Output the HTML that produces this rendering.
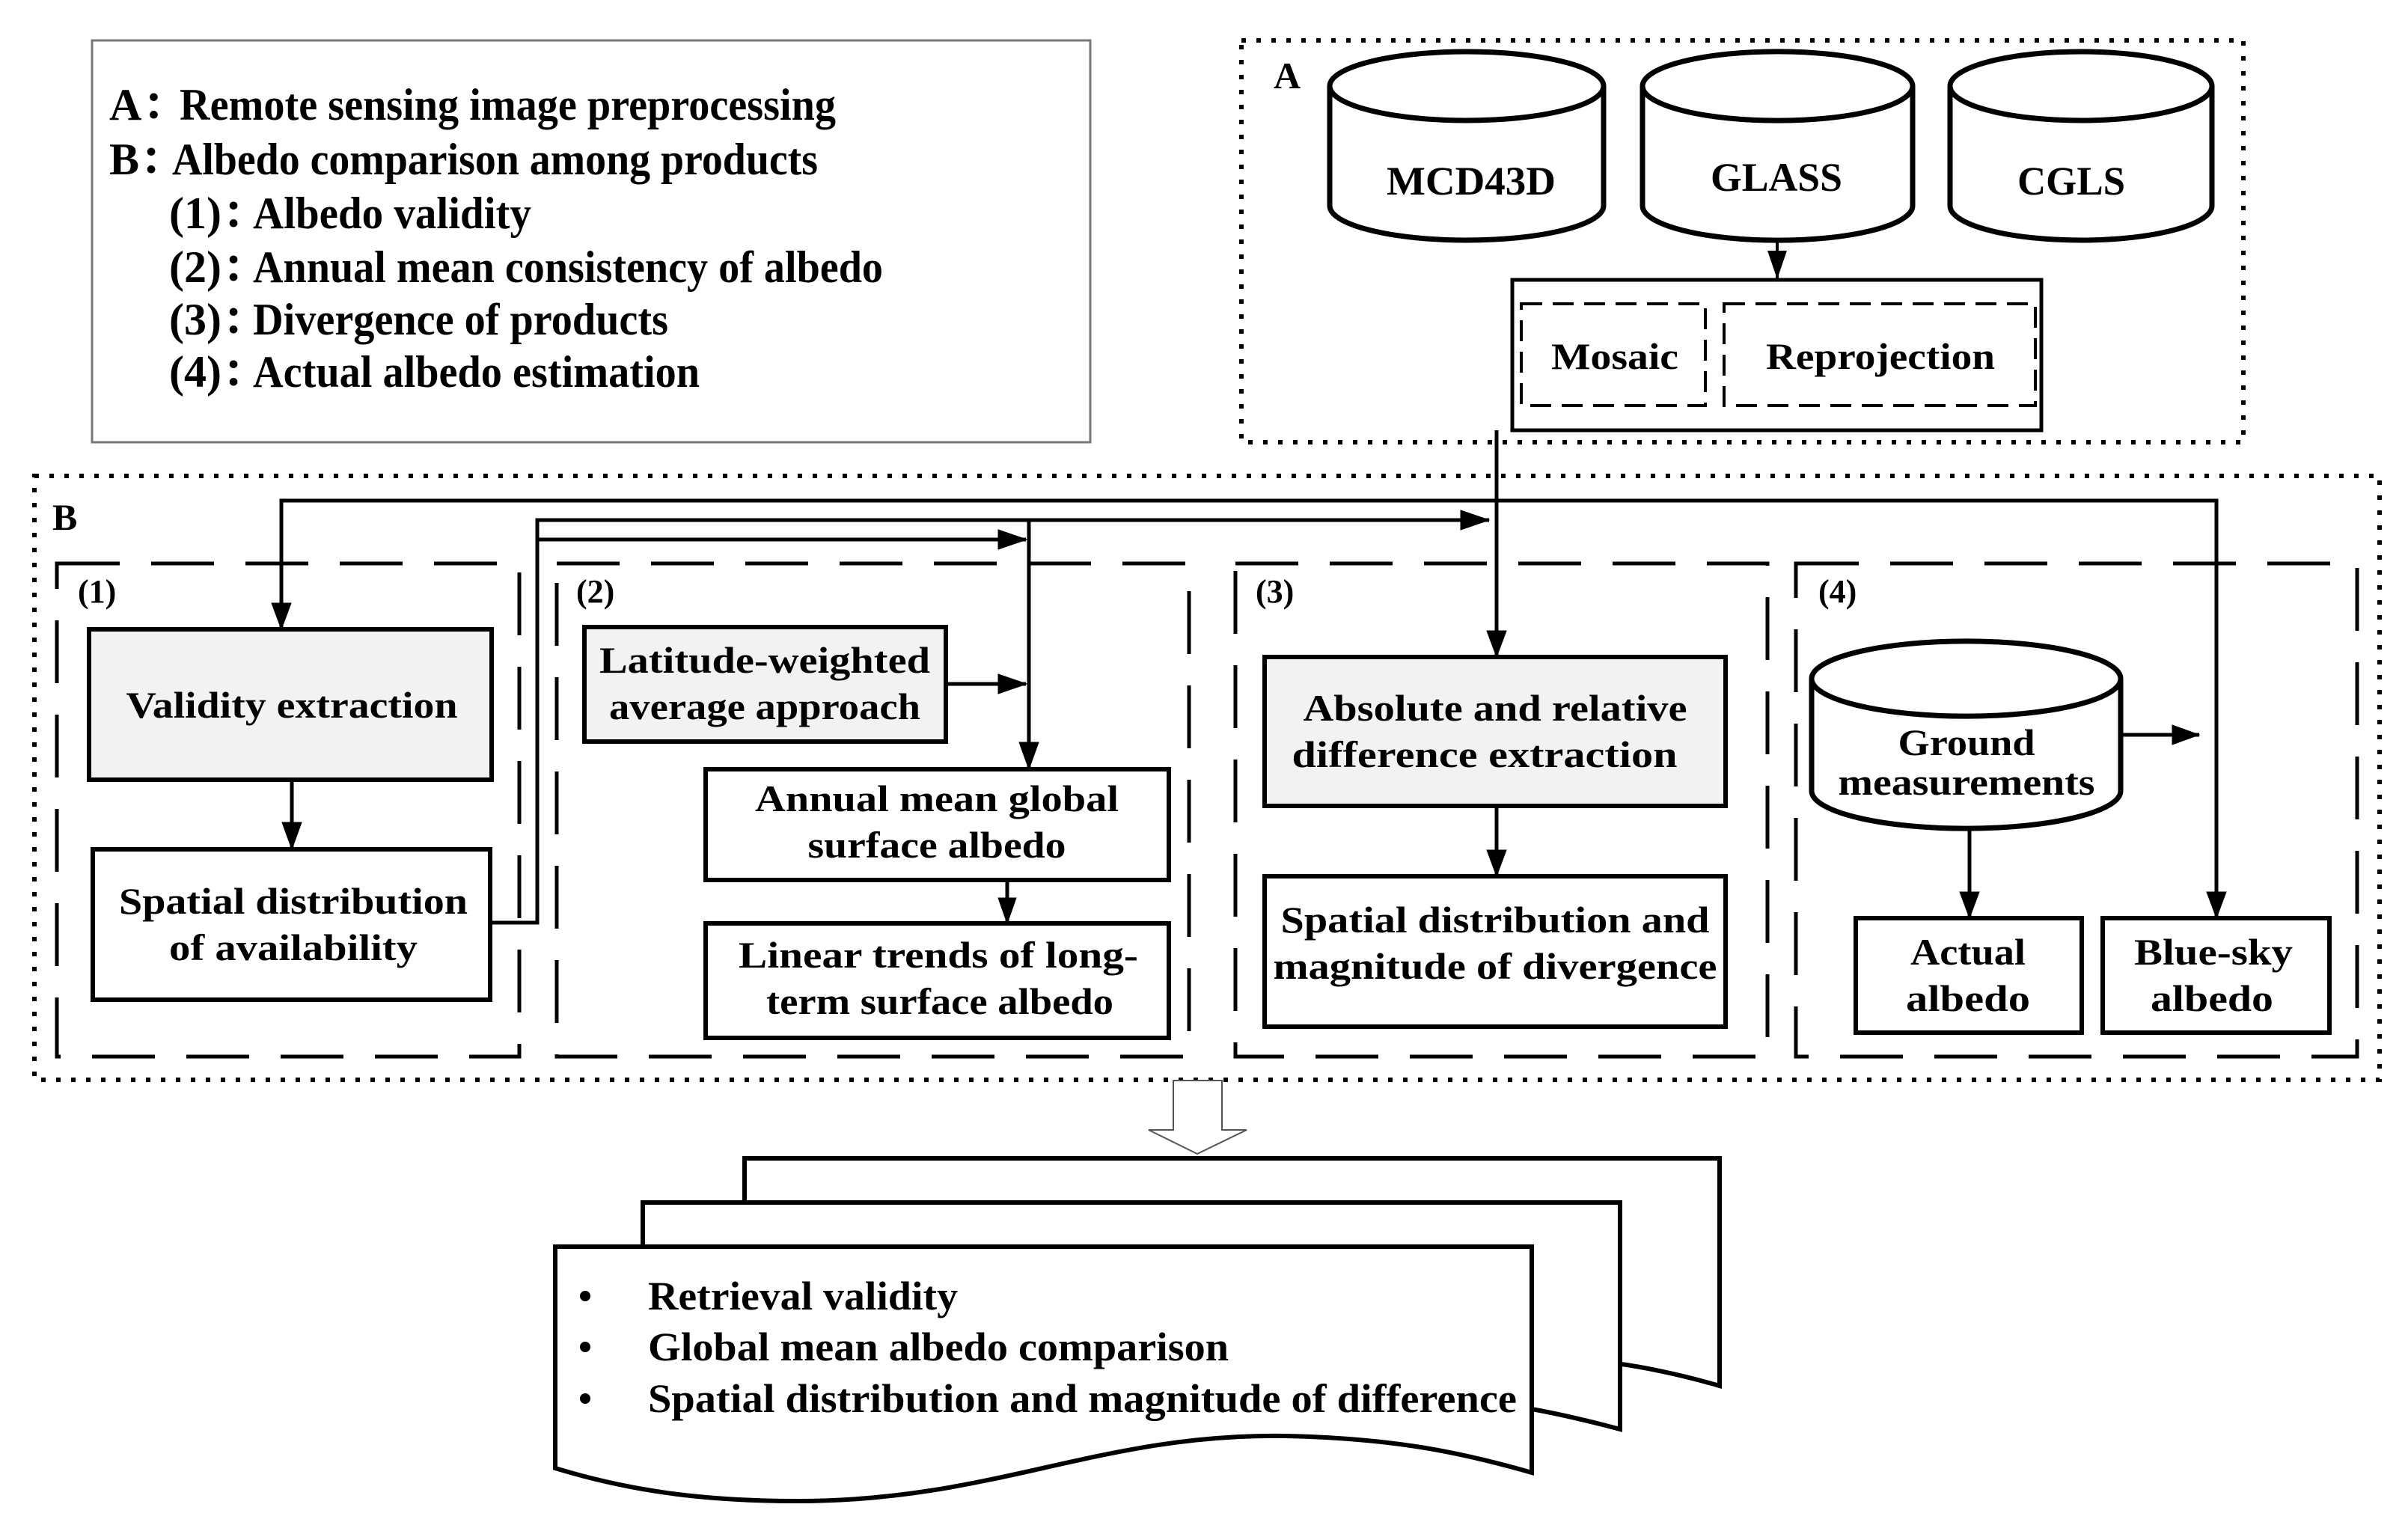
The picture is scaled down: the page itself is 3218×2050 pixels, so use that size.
<!DOCTYPE html>
<html><head><meta charset="utf-8"><style>
html,body{margin:0;padding:0;background:#fff;}
svg{display:block;}
text{font-family:"Liberation Serif","Noto Serif CJK SC",serif;font-weight:bold;fill:#000;}
</style></head><body>
<svg width="3218" height="2050" viewBox="0 0 3218 2050" xmlns="http://www.w3.org/2000/svg">
<defs>
<marker id="ah" markerUnits="userSpaceOnUse" markerWidth="40" markerHeight="26" refX="38" refY="13" orient="auto">
<path d="M0,0 L38,13 L0,26 z" fill="#000"/>
</marker>
</defs>
<rect width="3218" height="2050" fill="#fff"/>

<!-- Legend -->
<rect x="123" y="54" width="1334" height="537" fill="none" stroke="#777" stroke-width="3"/>
<g font-size="60">
<text x="146" y="160">A：</text><text x="240" y="160" textLength="877" lengthAdjust="spacingAndGlyphs">Remote sensing image preprocessing</text>
<text x="146" y="233">B：</text><text x="230" y="233" textLength="863" lengthAdjust="spacingAndGlyphs">Albedo comparison among products</text>
<text x="226" y="305">(1)：</text><text x="338" y="305" textLength="372" lengthAdjust="spacingAndGlyphs">Albedo validity</text>
<text x="226" y="377">(2)：</text><text x="338" y="377" textLength="842" lengthAdjust="spacingAndGlyphs">Annual mean consistency of albedo</text>
<text x="226" y="447">(3)：</text><text x="338" y="447" textLength="555" lengthAdjust="spacingAndGlyphs">Divergence of products</text>
<text x="226" y="517">(4)：</text><text x="338" y="517" textLength="597" lengthAdjust="spacingAndGlyphs">Actual albedo estimation</text>
</g>

<!-- Box A -->
<rect x="1659" y="54" width="1339" height="537" fill="none" stroke="#000" stroke-width="6" stroke-dasharray="6 14"/>
<text x="1702" y="118" font-size="50">A</text>
<g fill="#fff" stroke="#000" stroke-width="7">
<path d="M1777,115 A183,46 0 0 1 2143,115 L2143,275 A183,46 0 0 1 1777,275 Z"/>
<path d="M1777,115 A183,46 0 0 0 2143,115" fill="none"/>
<path d="M2195,115 A180,46 0 0 1 2556,115 L2556,275 A180,46 0 0 1 2195,275 Z"/>
<path d="M2195,115 A180,46 0 0 0 2556,115" fill="none"/>
<path d="M2606,115 A175,46 0 0 1 2956,115 L2956,275 A175,46 0 0 1 2606,275 Z"/>
<path d="M2606,115 A175,46 0 0 0 2956,115" fill="none"/>
</g>
<g font-size="54" text-anchor="middle">
<text x="1966" y="260" textLength="226" lengthAdjust="spacingAndGlyphs">MCD43D</text>
<text x="2374" y="255" textLength="176" lengthAdjust="spacingAndGlyphs">GLASS</text>
<text x="2768" y="260" textLength="144" lengthAdjust="spacingAndGlyphs">CGLS</text>
</g>
<line x1="2375" y1="321" x2="2375" y2="373" stroke="#000" stroke-width="4" marker-end="url(#ah)"/>
<rect x="2021" y="374" width="707" height="201" fill="none" stroke="#000" stroke-width="5"/>
<rect x="2033" y="406" width="246" height="136" fill="none" stroke="#000" stroke-width="4" stroke-dasharray="28 14"/>
<rect x="2304" y="406" width="416" height="136" fill="none" stroke="#000" stroke-width="4" stroke-dasharray="28 14"/>
<g font-size="50" text-anchor="middle">
<text x="2158" y="493" textLength="170" lengthAdjust="spacingAndGlyphs">Mosaic</text>
<text x="2513" y="493" textLength="306" lengthAdjust="spacingAndGlyphs">Reprojection</text>
</g>

<!-- Box B -->
<rect x="46" y="636" width="3134" height="807" fill="none" stroke="#000" stroke-width="6" stroke-dasharray="6 14"/>
<text x="70" y="708" font-size="50">B</text>

<!-- sub dashed boxes -->
<g fill="none" stroke="#000" stroke-width="5" stroke-dasharray="84 42">
<rect x="76" y="753" width="618" height="659"/>
<rect x="744" y="753" width="845" height="659"/>
<rect x="1651" y="753" width="711" height="659"/>
<rect x="2400" y="753" width="750" height="659"/>
</g>
<g font-size="44">
<text x="104" y="805">(1)</text>
<text x="770" y="805">(2)</text>
<text x="1678" y="805">(3)</text>
<text x="2430" y="805">(4)</text>
</g>

<!-- connectors -->
<g fill="none" stroke="#000" stroke-width="5">
<polyline points="376,839 376,669 2962,669 2962,1225" />
<polyline points="2000,575 2000,876"/>
<polyline points="655,1233 718,1233 718,695 1990,695"/>
<polyline points="718,721 1371,721"/>
<polyline points="1375,695 1375,1026"/>
<line x1="1264" y1="914" x2="1371" y2="914"/>
<line x1="390" y1="1042" x2="390" y2="1133"/>
<line x1="1346" y1="1176" x2="1346" y2="1232"/>
<line x1="2000" y1="1077" x2="2000" y2="1169"/>
<line x1="2834" y1="982" x2="2939" y2="982"/>
<line x1="2632" y1="1107" x2="2632" y2="1225"/>
</g>
<g stroke="#000" stroke-width="1">
<path d="M376,841 L363,806 L389,806 z"/>
<path d="M1990,695 L1952,682 L1952,708 z"/>
<path d="M1372,721 L1334,708 L1334,734 z"/>
<path d="M1375,1028 L1362,992 L1388,992 z"/>
<path d="M1372,914 L1334,901 L1334,927 z"/>
<path d="M390,1135 L377,1099 L403,1099 z"/>
<path d="M1346,1234 L1334,1200 L1358,1200 z"/>
<path d="M2000,878 L1987,843 L2013,843 z"/>
<path d="M2000,1171 L1987,1136 L2013,1136 z"/>
<path d="M2939,982 L2903,969 L2903,995 z"/>
<path d="M2632,1227 L2619,1192 L2645,1192 z"/>
<path d="M2962,1227 L2949,1192 L2975,1192 z"/>
</g>

<!-- boxes -->
<g stroke="#000" stroke-width="6">
<rect x="119" y="841" width="538" height="201" fill="#f2f2f2"/>
<rect x="124" y="1135" width="531" height="201" fill="#fff"/>
<rect x="781" y="838" width="483" height="153" fill="#f2f2f2"/>
<rect x="943" y="1028" width="619" height="148" fill="#fff"/>
<rect x="943" y="1234" width="619" height="153" fill="#fff"/>
<rect x="1690" y="878" width="616" height="199" fill="#f2f2f2"/>
<rect x="1690" y="1171" width="616" height="201" fill="#fff"/>
<rect x="2480" y="1227" width="302" height="153" fill="#fff"/>
<rect x="2810" y="1227" width="303" height="153" fill="#fff"/>
</g>
<g fill="#fff" stroke="#000" stroke-width="7">
<path d="M2421,907 A206,50 0 0 1 2834,907 L2834,1057 A206,50 0 0 1 2421,1057 Z"/>
<path d="M2421,907 A206,50 0 0 0 2834,907" fill="none"/>
</g>

<g font-size="50" text-anchor="middle">
<text x="390" y="959" textLength="443" lengthAdjust="spacingAndGlyphs">Validity extraction</text>
<text x="392" y="1221" textLength="466" lengthAdjust="spacingAndGlyphs">Spatial distribution</text>
<text x="392" y="1283" textLength="332" lengthAdjust="spacingAndGlyphs">of availability</text>
<text x="1022" y="899" textLength="442" lengthAdjust="spacingAndGlyphs">Latitude-weighted</text>
<text x="1022" y="961" textLength="416" lengthAdjust="spacingAndGlyphs">average approach</text>
<text x="1252" y="1084" textLength="486" lengthAdjust="spacingAndGlyphs">Annual mean global</text>
<text x="1252" y="1146" textLength="345" lengthAdjust="spacingAndGlyphs">surface albedo</text>
<text x="1254" y="1293" textLength="534" lengthAdjust="spacingAndGlyphs">Linear trends of  long-</text>
<text x="1256" y="1355" textLength="464" lengthAdjust="spacingAndGlyphs">term surface albedo</text>
<text x="1998" y="963" textLength="513" lengthAdjust="spacingAndGlyphs">Absolute and relative</text>
<text x="1984" y="1025" textLength="515" lengthAdjust="spacingAndGlyphs">difference extraction</text>
<text x="1998" y="1246" textLength="573" lengthAdjust="spacingAndGlyphs">Spatial distribution and</text>
<text x="1998" y="1308" textLength="593" lengthAdjust="spacingAndGlyphs">magnitude of divergence</text>
<text x="2628" y="1009" textLength="183" lengthAdjust="spacingAndGlyphs">Ground</text>
<text x="2628" y="1062" textLength="343" lengthAdjust="spacingAndGlyphs">measurements</text>
<text x="2630" y="1289" textLength="154" lengthAdjust="spacingAndGlyphs">Actual</text>
<text x="2630" y="1351" textLength="166" lengthAdjust="spacingAndGlyphs">albedo</text>
<text x="2958" y="1289" textLength="212" lengthAdjust="spacingAndGlyphs">Blue-sky</text>
<text x="2956" y="1351" textLength="164" lengthAdjust="spacingAndGlyphs">albedo</text>
</g>

<!-- hollow arrow -->
<path d="M1568,1444 L1633,1444 L1633,1510 L1666,1510 L1600,1542 L1535,1510 L1568,1510 Z" fill="#fff" stroke="#555" stroke-width="2"/>

<!-- stacked documents -->
<g fill="#fff" stroke="#000" stroke-width="6">
<path d="M995,1548 L2298,1548 L2298,1852 C2240,1835 2190,1826 2160,1822 L995,1822 Z"/>
<path d="M859,1607 L2165,1607 L2165,1910 C2120,1898 2080,1889 2047,1883 L859,1883 Z"/>
<path d="M742,1666 L2047,1666 L2047,1968 C1950,1940 1860,1922 1718,1919 C1470,1915 1330,2006 1066,2006 C950,2006 850,1995 742,1962 Z"/>
</g>
<g font-size="54">
<circle cx="782" cy="1732" r="7"/>
<circle cx="782" cy="1800" r="7"/>
<circle cx="782" cy="1869" r="7"/>
<text x="866" y="1750" textLength="414" lengthAdjust="spacingAndGlyphs">Retrieval validity</text>
<text x="866" y="1818" textLength="776" lengthAdjust="spacingAndGlyphs">Global mean albedo comparison</text>
<text x="866" y="1887" textLength="1161" lengthAdjust="spacingAndGlyphs">Spatial distribution and magnitude of difference</text>
</g>
</svg>
</body></html>
